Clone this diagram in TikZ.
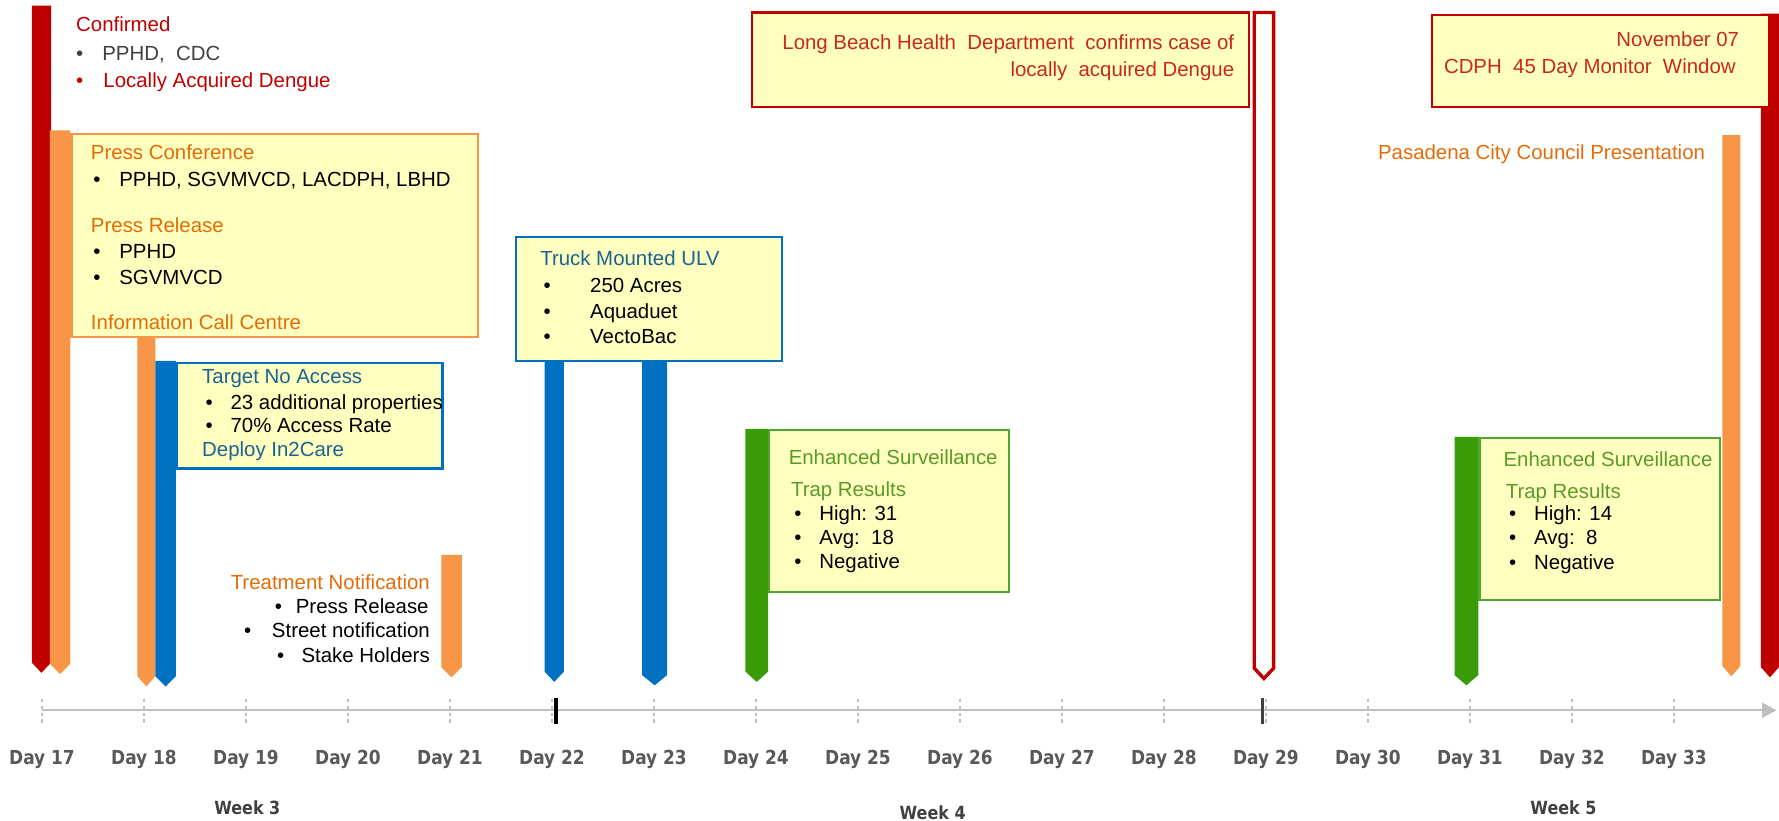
\documentclass[tikz,border=0pt]{standalone}
\usepackage{fontspec}
\setmainfont{Liberation Sans}
\newfontfamily\axisfont{DejaVu Sans}[FakeStretch=0.88]
\usetikzlibrary{arrows.meta}
\definecolor{dred}{HTML}{C00000}
\definecolor{lred}{HTML}{C8281E}
\definecolor{orng}{HTML}{F79646}
\definecolor{otxt}{HTML}{E36C09}
\definecolor{blu}{HTML}{0070C0}
\definecolor{btxt}{HTML}{1B6392}
\definecolor{grn}{HTML}{379C06}
\definecolor{gtxt}{HTML}{5A9A2A}
\definecolor{gbord}{HTML}{4EA72E}
\definecolor{boxfill}{HTML}{FFFFC0}
\definecolor{axgrey}{HTML}{BFBFBF}
\definecolor{labgrey}{HTML}{595959}
\definecolor{tgrey}{HTML}{404040}
\newcommand\fs{\fontsize{18}{21}\selectfont}
\newcommand\flagbar[5]{%
  \path[#5] (#1,#3) -- (#2,#3) -- (#2,#4-9) -- ({(#1+#2)/2},#4) -- (#1,#4-9) -- cycle;}
\tikzset{
  txt/.style={anchor=base west, inner sep=0pt, font=\fs},
  rtxt/.style={anchor=base east, inner sep=0pt, font=\fs},
  bul/.style={anchor=base west, inner sep=0pt, font=\fs, text=black},
  infobox/.style={draw, line width=2pt, fill=boxfill, anchor=north west, inner sep=0pt},
  daylab/.style={anchor=base, inner sep=0pt, font=\axisfont\bfseries\fontsize{17}{20}\selectfont, text=labgrey},
  weeklab/.style={anchor=base, inner sep=0pt, font=\axisfont\bfseries\fontsize{16}{20}\selectfont, text=tgrey},
  tick/.style={draw=axgrey, dashed, line width=1pt},
}
\begin{document}
\begin{tikzpicture}[x=1pt,y=-1pt]
\useasboundingbox (0,0) rectangle (1568,723);
% ---- axis
\coordinate (axS) at (37,626);
\coordinate (axE) at (1566,626);
\draw[axgrey, line width=2.2pt, -{Triangle[length=13pt,width=13pt]}] (axS) -- (axE);
\foreach \d in {17,...,33}{
  \pgfmathsetmacro\xx{37+(\d-17)*89.9}
  \draw[tick] (\xx,616) -- (\xx,637);
  \node[daylab] (day\d) at (\xx,674) {Day \d};
}
\draw[black, line width=3pt] (490,615) -- (490,638);
\draw[tgrey, line width=3pt] (1113,615) -- (1113,638);
\node[weeklab] (wk3) at (218,718) {Week 3};
\node[weeklab] (wk4) at (822,722) {Week 4};
\node[weeklab] (wk5) at (1378,718) {Week 5};
% ---- bars
\flagbar{28}{45}{5}{593}{fill=dred}
\flagbar{44}{62}{115}{594}{fill=orng}
\flagbar{121}{137}{294}{605}{fill=orng}
\flagbar{137}{155}{318}{605}{fill=blu}
\flagbar{389}{407}{489}{597}{fill=orng}
\flagbar{480}{497}{300}{601}{fill=blu}
\flagbar{566}{588}{300}{604}{fill=blu}
\flagbar{657}{677}{378}{601}{fill=grn}
\flagbar{1105.5}{1122.5}{11}{598}{draw=dred, fill=white, line width=3pt}
\flagbar{1282}{1303}{385}{604}{fill=grn}
\flagbar{1518}{1534}{119}{596}{fill=orng}
\flagbar{1552}{1568}{12}{597}{fill=dred}
% ---- Confirmed
\node[txt, text=dred] (conf) at (67,28) {Confirmed};
\node[bul, text=tgrey] (cb1) at (67,53) {•};
\node[txt, text=tgrey] (ct1) at (90,53) {PPHD,\ \ CDC};
\node[bul, text=dred] (cb2) at (67,77) {•};
\node[txt, text=dred] (ct2) at (91,77) {Locally Acquired Dengue};
% ---- Press box
\node[infobox, draw=orng, minimum width=358pt, minimum height=179pt] (pressbox) at (62,117) {};
\node[txt, text=otxt] (pc) at (80,141) {Press Conference};
\node[bul] (pcb) at (82,164) {•};
\node[txt] (pct) at (105,164) {PPHD, SGVMVCD, LACDPH, LBHD};
\node[txt, text=otxt] (pr) at (80,205) {Press Release};
\node[bul] (prb1) at (82,228) {•};
\node[txt] (prt1) at (105,228) {PPHD};
\node[bul] (prb2) at (82,251) {•};
\node[txt] (prt2) at (105,251) {SGVMVCD};
\node[txt, text=otxt] (icc) at (80,290) {Information Call Centre};
% ---- Target box
\node[infobox, draw=blu, minimum width=234pt, minimum height=93pt] (tgtbox) at (155,319) {};
\node[txt, text=btxt] (tna) at (178,338) {Target No Access};
\node[bul] (tb1) at (181,361) {•};
\node[txt] (tt1) at (203,361) {23 additional properties};
\node[bul] (tb2) at (181,381) {•};
\node[txt] (tt2) at (203,381) {70\% Access Rate};
\node[txt, text=btxt] (dep) at (178,402) {Deploy In2Care};
% ---- Treatment notification
\node[rtxt, text=otxt] (tn) at (379,520) {Treatment Notification};
\node[rtxt] (tn1) at (378,541) {Press Release};
\node[bul] (tnb1) at (242,541) {•};
\node[rtxt] (tn2) at (379,562) {Street notification};
\node[bul] (tnb2) at (215,562) {•};
\node[rtxt] (tn3) at (379,584) {Stake Holders};
\node[bul] (tnb3) at (244,584) {•};
% ---- Truck box
\node[infobox, draw=blu, minimum width=234pt, minimum height=109pt] (truckbox) at (454,208) {};
\node[txt, text=btxt] (tm) at (476,234) {Truck Mounted ULV};
\node[bul] (tmb1) at (479,258) {•};
\node[txt] (tmt1) at (520,258) {250 Acres};
\node[bul] (tmb2) at (479,281) {•};
\node[txt] (tmt2) at (520,281) {Aquaduet};
\node[bul] (tmb3) at (479,303) {•};
\node[txt] (tmt3) at (520,303) {VectoBac};
% ---- Green box 1
\node[infobox, draw=gbord, minimum width=211pt, minimum height=143pt] (gbox1) at (677,378) {};
\node[txt, text=gtxt] (es1) at (695,409) {Enhanced Surveillance};
\node[txt, text=gtxt] (tr1) at (697,438) {Trap Results};
\node[bul] (g1b1) at (700,459) {•};
\node[txt] (g1t1) at (722,459) {High: 31};
\node[bul] (g1b2) at (700,480) {•};
\node[txt] (g1t2) at (722,480) {Avg:\ \ 18};
\node[bul] (g1b3) at (700,501) {•};
\node[txt] (g1t3) at (722,501) {Negative};
% ---- Long Beach box
\node[infobox, draw=dred, minimum width=438pt, minimum height=83pt] (lbbox) at (662,10) {};
\node[rtxt, text=lred] (lb1) at (1088,44) {Long Beach Health\ \ Department\ \ confirms case of};
\node[rtxt, text=lred] (lb2) at (1088,67) {locally\ \ acquired Dengue};
% ---- CDPH box
\node[infobox, draw=dred, minimum width=297pt, minimum height=81pt] (cdbox) at (1261,12) {};
\node[rtxt, text=lred] (nov) at (1533,41) {November 07};
\node[rtxt, text=lred] (cdph) at (1530,65) {CDPH\ \ 45 Day Monitor\ \ Window};
% ---- Pasadena
\node[rtxt, text=otxt] (pas) at (1503,141) {Pasadena City Council Presentation};
% ---- Green box 2
\node[infobox, draw=gbord, minimum width=212pt, minimum height=143pt] (gbox2) at (1303,385) {};
\node[txt, text=gtxt] (es2) at (1325,411) {Enhanced Surveillance};
\node[txt, text=gtxt] (tr2) at (1327,439) {Trap Results};
\node[bul] (g2b1) at (1330,459) {•};
\node[txt] (g2t1) at (1352,459) {High: 14};
\node[bul] (g2b2) at (1330,480) {•};
\node[txt] (g2t2) at (1352,480) {Avg:\ \ 8};
\node[bul] (g2b3) at (1330,502) {•};
\node[txt] (g2t3) at (1352,502) {Negative};
\end{tikzpicture}
\end{document}
